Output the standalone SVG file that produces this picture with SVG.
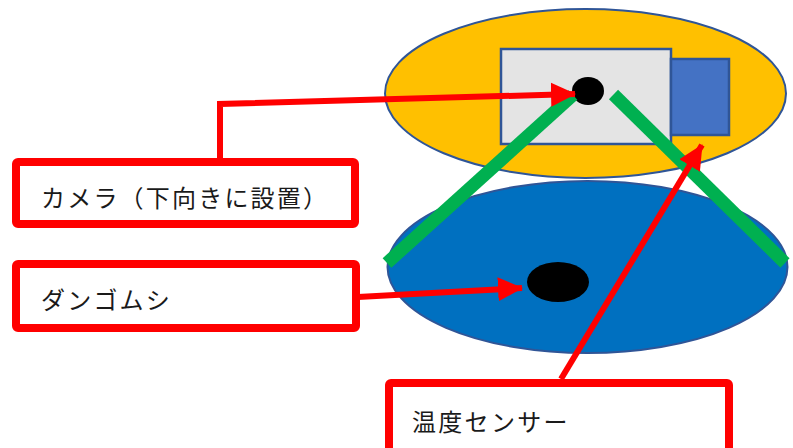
<svg xmlns="http://www.w3.org/2000/svg" width="793" height="448" viewBox="0 0 793 448">
<style>
.disk{stroke:#2F5597;stroke-width:2}
.leg{stroke:#00B050;stroke-width:13;fill:none}
.wire{stroke:#FF0000;stroke-width:6;fill:none}
.box{fill:#FFFFFF;stroke:#FF0000;stroke-width:8;stroke-linejoin:round}
.lbl{font-family:"Noto Sans CJK JP","Noto Sans",sans-serif;font-size:24px;fill:#1a1a1a}
</style>
<defs>
<marker id="ah" markerUnits="userSpaceOnUse" markerWidth="26" markerHeight="26" viewBox="0 0 26 26" refX="24" refY="13" orient="auto">
<polygon points="0,1 25,13 0,25" fill="#FF0000"/>
</marker>
</defs>
<g id="top-disk"><ellipse class="disk" cx="585.5" cy="93.5" rx="200.5" ry="84.5" fill="#FFC000"/></g>
<g id="bottom-disk"><ellipse class="disk" cx="587.5" cy="267" rx="200" ry="86" fill="#0070C0"/></g>
<g id="camera">
<rect x="501" y="49" width="170" height="95" fill="#E4E4E4" stroke="#2F5597" stroke-width="2.5"/>
<rect x="671" y="59" width="58" height="76" fill="#4472C4" stroke="#2F5597" stroke-width="2.5"/>
<ellipse cx="588" cy="91" rx="16" ry="14" fill="#000"/>
</g>
<g id="dangomushi-dot"><ellipse cx="558" cy="282" rx="31" ry="20" fill="#000"/></g>
<g id="legs">
<line class="leg" x1="387" y1="263" x2="573" y2="95"/>
<line class="leg" x1="785" y1="263" x2="613.5" y2="94.5"/>
</g>
<g id="connectors">
<polyline class="wire" points="220,160 220,104 575,94" marker-end="url(#ah)"/>
<line class="wire" x1="358" y1="297" x2="522" y2="288" marker-end="url(#ah)"/>
<line class="wire" x1="561" y1="379" x2="702" y2="145" marker-end="url(#ah)"/>
</g>
<g id="label-camera">
<rect class="box" x="16" y="162" width="339" height="62" rx="2"/>
<text class="lbl" x="41" y="207" letter-spacing="2.2">カメラ（下向きに設置）</text>
</g>
<g id="label-dangomushi">
<rect class="box" x="16" y="264" width="340" height="64" rx="2"/>
<text class="lbl" x="41" y="309" letter-spacing="2.2">ダンゴムシ</text>
</g>
<g id="label-sensor">
<rect class="box" x="389" y="383" width="340" height="80" rx="2"/>
<text class="lbl" x="412" y="431" font-size="25" letter-spacing="2.3">温度センサー</text>
</g>
</svg>
